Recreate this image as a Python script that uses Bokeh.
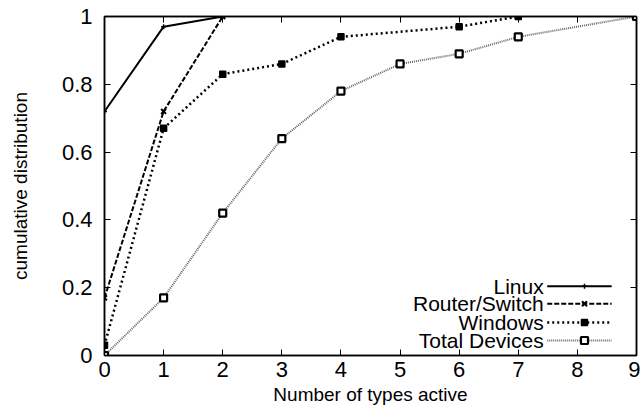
from bokeh.plotting import figure
from bokeh.models import Range1d, FixedTicker, LinearAxis, CustomJSTickFormatter
from bokeh.core.properties import value
from bokeh.embed import file_html
from bokeh.resources import INLINE

# Cumulative distribution of the number of active types per device class
linux_x = [0, 1, 2]
linux_y = [0.72, 0.97, 1.0]

router_x = [0, 1, 2]
router_y = [0.17, 0.72, 1.0]

windows_x = [0, 1, 2, 3, 4, 6, 7]
windows_y = [0.03, 0.67, 0.83, 0.86, 0.94, 0.97, 1.0]

total_x = [0, 1, 2, 3, 4, 5, 6, 7, 9]
total_y = [0.0, 0.17, 0.42, 0.64, 0.78, 0.86, 0.89, 0.94, 1.0]

series_names = ["Linux", "Router/Switch", "Windows", "Total Devices"]
x_ticks = [0, 1, 2, 3, 4, 5, 6, 7, 8, 9]
y_ticks = [0, 0.2, 0.4, 0.6, 0.8, 1.0]

FONT = "Liberation Sans"

p = figure(width=640, height=412, output_backend="svg", toolbar_location=None,
           x_range=Range1d(0, 9), y_range=Range1d(0, 1),
           min_border_left=104, min_border_right=4, min_border_top=16, min_border_bottom=57)
p.grid.visible = False
p.outline_line_color = "black"
p.outline_line_width = 1.5
p.background_fill_color = "white"
p.border_fill_color = "white"

fmt = CustomJSTickFormatter(code="return String(Math.round(tick * 10) / 10);")

xa = p.xaxis[0]
xa.ticker = FixedTicker(ticks=x_ticks)
xa.axis_label = "Number of types active"
ya = p.yaxis[0]
ya.ticker = FixedTicker(ticks=y_ticks)
ya.formatter = fmt
ya.axis_label = "cumulative distribution"

for ax in (xa, ya):
    ax.major_tick_in = 6
    ax.major_tick_out = 0
    ax.minor_tick_line_color = None
    ax.axis_line_width = 1.5
    ax.major_tick_line_width = 1
    ax.major_label_text_font = FONT
    ax.major_label_text_font_size = "22px"
    ax.major_label_text_color = "black"
    ax.axis_label_text_font = FONT
    ax.axis_label_text_font_size = "19px"
    ax.axis_label_text_font_style = "normal"
    ax.axis_label_text_color = "black"

xa.major_label_standoff = 6
xa.axis_label_standoff = 4
ya.major_label_standoff = 12
ya.axis_label_standoff = 28

# mirrored tick marks on the top and right edges
top = LinearAxis(ticker=FixedTicker(ticks=x_ticks))
right = LinearAxis(ticker=FixedTicker(ticks=y_ticks))
for ax in (top, right):
    ax.major_tick_in = 6
    ax.major_tick_out = 0
    ax.minor_tick_line_color = None
    ax.axis_line_width = 1.5
    ax.major_label_text_font_size = "0px"
    ax.major_label_text_color = None
    ax.major_label_standoff = 0
p.add_layout(top, "above")
p.add_layout(right, "right")

line_styles = [
    dict(line_color="black", line_width=2),
    dict(line_color="black", line_width=2, line_dash="5 2"),
    dict(line_color="black", line_width=2.5, line_dash="2 3"),
    dict(line_color="#666666", line_width=2, line_dash="1 1"),
]
marker_styles = [
    dict(marker="cross", size=5, line_color="black", line_width=1.5),
    dict(marker="x", size=7, line_color="black", line_width=2),
    dict(marker="square", size=6, fill_color="black", line_color="black", line_width=1.5),
    dict(marker="square", size=7, fill_color="white", line_color="black", line_width=2.2),
]

# series
series = [(linux_x, linux_y), (router_x, router_y), (windows_x, windows_y), (total_x, total_y)]
for (sx, sy), ls, ms in zip(series, line_styles, marker_styles):
    p.line(sx, sy, **ls)
    p.scatter(sx, sy, **ms)

# key in the lower right corner: label, then line sample with marker
key_text_x = 7.43
key_line_x0 = 7.49
key_line_x1 = 8.58
key_marker_x = 8.12
key_rows = [0.204, 0.1525, 0.0973, 0.0442]

p.text(x=[key_text_x] * 4, y=key_rows, text=series_names,
       text_align="right", text_baseline="middle",
       text_font=value(FONT), text_font_size="21px", text_color="black")

for yk, ls, ms in zip(key_rows, line_styles, marker_styles):
    p.line([key_line_x0, key_line_x1], [yk, yk], **ls)
    p.scatter([key_marker_x], [yk], **ms)

open("out.html", "w").write(file_html(p, INLINE))
